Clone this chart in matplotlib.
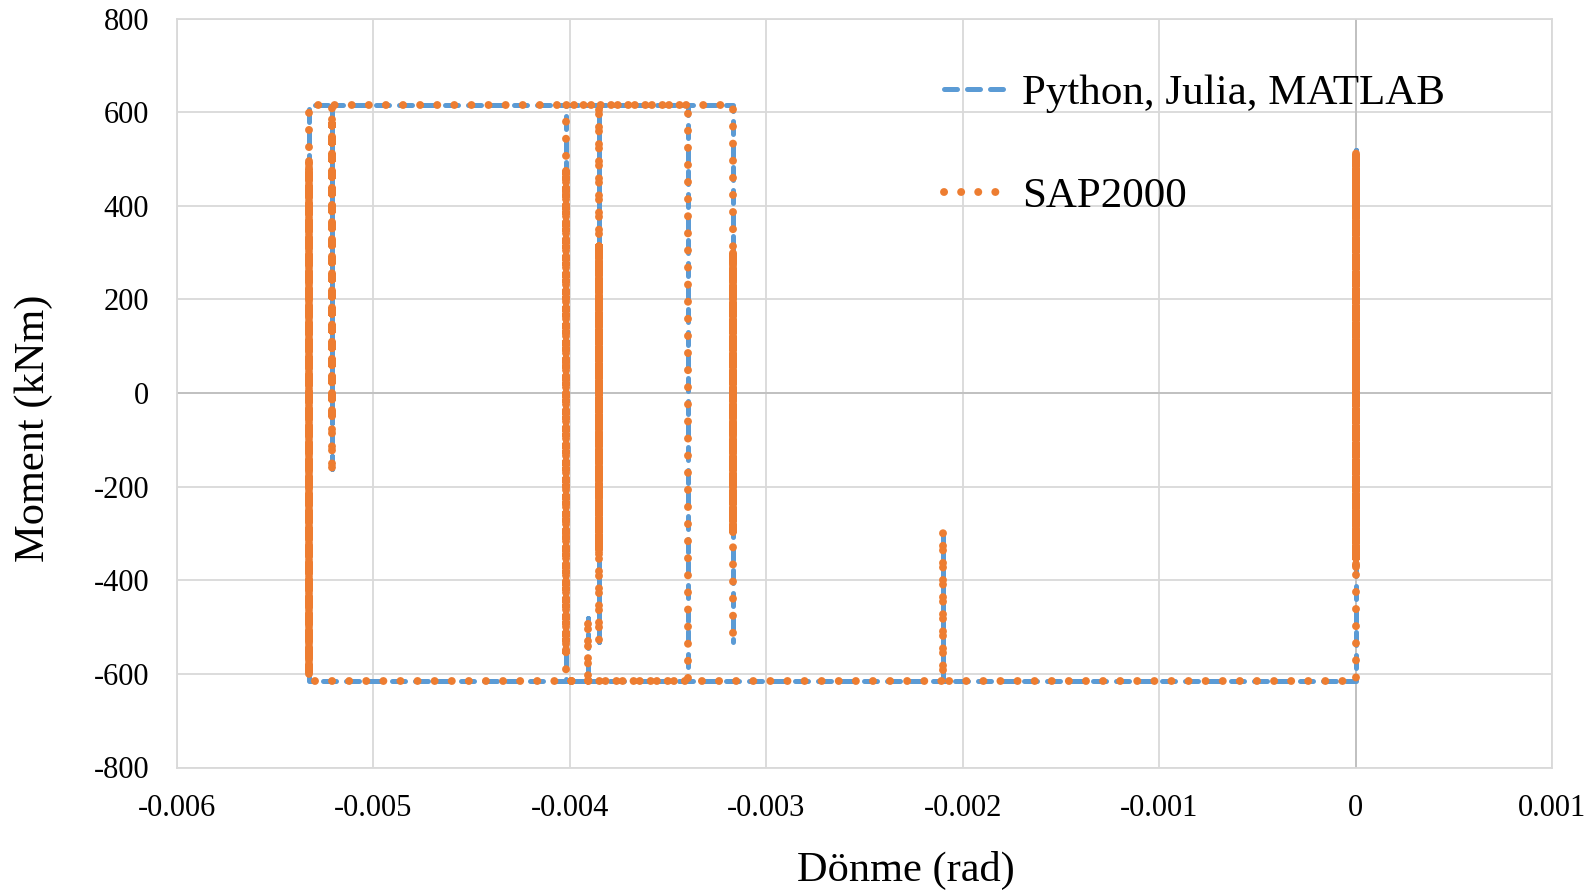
import matplotlib
matplotlib.use("Agg")
import matplotlib.pyplot as plt

# Moment-rotation history of the hinge (turning points of the response path)
rotation = [
    0.0, 0.0, 0.0, 0.0, 0.0, 0.0, 0.0, 0.0, 0.0, 0.0, 0.0, 0.0, 0.0,
    0.0, 0.0, 0.0, 0.0, 0.0, 0.0, 0.0, 0.0,
    -0.00210, -0.00210, -0.00210,
    -0.00391, -0.00391, -0.00391,
    -0.00533, -0.00533, -0.00533, -0.00533, -0.00533, -0.00533, -0.00533,
    -0.00533, -0.00533, -0.00533,
    -0.00521, -0.00521, -0.00521, -0.00521, -0.00521, -0.00521, -0.00521,
    -0.00521, -0.00521,
    -0.00385, -0.00385, -0.00385, -0.00385, -0.00385, -0.00385, -0.00385,
    -0.00385, -0.00385, -0.00385, -0.00385, -0.00385, -0.00385,
    -0.00340, -0.00340,
    -0.00402, -0.00402, -0.00402, -0.00402, -0.00402, -0.00402, -0.00402,
    -0.00402, -0.00402, -0.00402, -0.00402,
    -0.00317, -0.00317, -0.00317, -0.00317, -0.00317, -0.00317, -0.00317,
    -0.00317, -0.00317, -0.00317, -0.00317, -0.00317,
]
moment = [
    0, 525, -370, 490, -340, 510, -360, 470, -320, 500, -355, 520, -365,
    480, -330, 505, -350, 495, -372, 515, -615,
    -615, -295, -615,
    -615, -481, -615,
    -615, 500, -600, 480, -590, 495, -605, 470, -595, 615,
    615, -173, 560, -10, 590, -30, 575, -60, 615,
    615, -532, 322, -346, 300, -330, 315, -340, 290, -320, 318, -335, 615,
    615, -615,
    -615, 483, -557, 470, -545, 480, -550, 465, -540, 588, 615,
    615, -300, 310, -290, 300, -295, 305, -285, 295, -300, 308, -532,
]

series_labels = ["Python, Julia, MATLAB", "SAP2000"]

x_ticks = [-0.006, -0.005, -0.004, -0.003, -0.002, -0.001, 0.0, 0.001]
x_tick_labels = ["-0.006", "-0.005", "-0.004", "-0.003", "-0.002", "-0.001", "0", "0.001"]
y_ticks = [-800, -600, -400, -200, 0, 200, 400, 600, 800]
y_tick_labels = ["-800", "-600", "-400", "-200", "0", "200", "400", "600", "800"]

plt.rcParams["font.family"] = ["Liberation Serif", "DejaVu Serif"]

W, H = 1592, 891
fig = plt.figure(figsize=(W / 100, H / 100), dpi=100)
left, right, top, bottom = 177, 1552, 18.5, 767.5
ax = fig.add_axes([left / W, 1 - bottom / H, (right - left) / W, (bottom - top) / H])

ax.set_xlim(x_ticks[0], x_ticks[-1])
ax.set_ylim(y_ticks[0], y_ticks[-1])
ax.set_xticks(x_ticks, x_tick_labels)
ax.set_yticks(y_ticks, y_tick_labels)
ax.tick_params(axis="both", length=0, labelsize=22, colors="black")
ax.tick_params(axis="x", pad=19)
ax.tick_params(axis="y", pad=20)

grid_color = "#d9d9d9"
ax.grid(True, color=grid_color, linewidth=1.3, zorder=0)
ax.set_axisbelow(True)
for s in ax.spines.values():
    s.set_color(grid_color)
    s.set_linewidth(1.3)
ax.axhline(0, color="#bfbfbf", linewidth=1.3, zorder=0.8)
ax.axvline(0, color="#bfbfbf", linewidth=1.3, zorder=0.8)

ax.plot(rotation, moment, color="#5B9BD5", linewidth=3.6,
        linestyle=(0, (2.6, 2.0)), dash_capstyle="round",
        solid_joinstyle="round", label=series_labels[0], zorder=2)
ax.plot(rotation, moment, color="#ED7D31", linewidth=5.7,
        linestyle=(0, (0.01, 2.15)), dash_capstyle="round",
        label=series_labels[1], zorder=3)

ax.set_xlabel("Dönme (rad)", fontsize=30.5)
ax.set_ylabel("Moment (kNm)", fontsize=30.5)
ax.xaxis.set_label_coords((905.6 - left) / (right - left), (bottom - 870) / (bottom - top))
ax.yaxis.set_label_coords((33.5 - left) / (right - left), (bottom - 428) / (bottom - top))
ax.xaxis.label.set_va("center")
ax.yaxis.label.set_va("center")

ax.legend(loc="upper left", bbox_to_anchor=(944 / W, 1 - 74 / H),
          bbox_transform=fig.transFigure, frameon=False, fontsize=31,
          handlelength=1.42, handletextpad=0.4, labelspacing=1.47,
          borderpad=0, borderaxespad=0)

fig.savefig("out.png", dpi=100)
